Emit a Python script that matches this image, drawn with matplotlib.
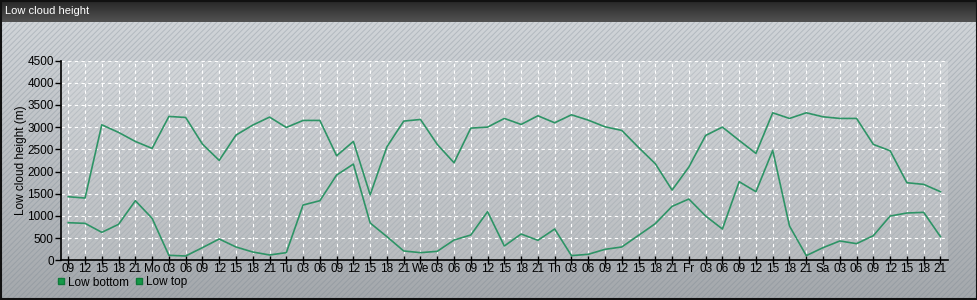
import numpy as np
import matplotlib
matplotlib.use("Agg")
import matplotlib.pyplot as plt
from matplotlib.patches import Rectangle
from matplotlib.lines import Line2D

plt.rcParams["font.family"] = ["Liberation Sans", "DejaVu Sans"]

# ---- data ----
tick_labels = (["09", "12", "15", "18", "21"] +
               ["Mo", "03", "06", "09", "12", "15", "18", "21"] +
               ["Tu", "03", "06", "09", "12", "15", "18", "21"] +
               ["We", "03", "06", "09", "12", "15", "18", "21"] +
               ["Th", "03", "06", "09", "12", "15", "18", "21"] +
               ["Fr", "03", "06", "09", "12", "15", "18", "21"] +
               ["Sa", "03", "06", "09", "12", "15", "18", "21"])

low_top = [1432, 1402, 3052, 2880, 2677, 2520, 3240, 3217, 2617, 2250,
           2820, 3045, 3225, 2992, 3150, 3150, 2355, 2677, 1475, 2557,
           3135, 3172, 2610, 2197, 2977, 3000, 3195, 3060, 3255, 3097,
           3277, 3157, 3007, 2925, 2542, 2175, 1582, 2100, 2812, 3000,
           2700, 2407, 3322, 3195, 3322, 3232, 3195, 3195, 2610, 2467,
           1747, 1710, 1545]

low_bottom = [847, 832, 630, 810, 1342, 945, 112, 97, 285, 480,
              300, 187, 120, 172, 1245, 1342, 1920, 2167, 840, 532,
              210, 172, 202, 457, 570, 1095, 322, 592, 450, 705,
              105, 135, 247, 300, 562, 825, 1215, 1380, 997, 705,
              1770, 1545, 2475, 772, 105, 285, 435, 375, 555, 997,
              1065, 1080, 532]

series_names = ["Low bottom", "Low top"]
title = "Low cloud height"
ylabel = "Low cloud height (m)"
yticks = [0, 500, 1000, 1500, 2000, 2500, 3000, 3500, 4000, 4500]

W, H = 978, 300
fig = plt.figure(figsize=(W / 100, H / 100), dpi=100)

# ---- background ----
bg = fig.add_axes([0, 0, 1, 1], zorder=-10)
bg.set_xlim(0, W)
bg.set_ylim(0, H)
bg.axis("off")
grad = np.linspace(0, 1, 256).reshape(-1, 1)
top_c = np.array([0xd0, 0xd4, 0xd8]) / 255
bot_c = np.array([0xa4, 0xa8, 0xac]) / 255
img = top_c + (bot_c - top_c) * grad[..., None] * np.ones((1, 2, 1))
bg.imshow(img, extent=(0, W, 0, H - 22), aspect="auto", origin="upper", zorder=0)
plt.rcParams["hatch.linewidth"] = 0.7
bg.add_patch(Rectangle((0, 0), W, H - 22, facecolor="none",
                       edgecolor=(0.45, 0.5, 0.55, 0.3), hatch="//////", lw=0, zorder=1))
# title bar
tgrad = np.linspace(0, 1, 64).reshape(-1, 1)
tc1 = np.array([0x26, 0x26, 0x26]) / 255
tc2 = np.array([0x52, 0x52, 0x52]) / 255
timg = tc1 + (tc2 - tc1) * tgrad[..., None] * np.ones((1, 2, 1))
bg.imshow(timg, extent=(0, W, H - 22, H), aspect="auto", origin="upper", zorder=2)
bg.text(5, H - 11.5, title, color="white", fontsize=8, va="center", ha="left",
        zorder=3)
# border
bg.add_patch(Rectangle((0.5, 1.5), W - 2, H - 2, facecolor="none",
                       edgecolor="#111111", lw=1.5, zorder=4))

# ---- main axes ----
left, right = 60.7, 948.0
bottom, topy = 300 - 260.3, 300 - 60.5
ax = fig.add_axes([left / W, bottom / H, (right - left) / W, (topy - bottom) / H])
ax.set_facecolor((1, 1, 1, 0.18))
x = np.arange(len(tick_labels))
line_color = "#2e9466"
ax.plot(x, low_top, color=line_color, lw=1.2, zorder=3)
ax.plot(x, low_bottom, color=line_color, lw=1.2, zorder=3)

ax.set_xlim(-0.45, len(tick_labels) - 1 + 0.45)
ax.set_ylim(0, 4500)
ax.set_xticks(x)
ax.set_xticklabels(tick_labels, fontsize=8.5)
ax.set_yticks(yticks)
ax.set_yticklabels([str(v) for v in yticks], fontsize=8.5)
ax.tick_params(axis="x", direction="inout", length=6, width=1, color="black", pad=-1)
ax.tick_params(axis="y", direction="out", length=4, width=1, color="black", pad=1)
ax.grid(True, color=(1, 1, 1, 0.55), linestyle=(0, (3, 3)), lw=0.8)
ax.set_axisbelow(True)
for s in ["top", "right"]:
    ax.spines[s].set_visible(False)
for s in ["left", "bottom"]:
    ax.spines[s].set_color("black")
    ax.spines[s].set_linewidth(1.2)
ax.set_ylabel(ylabel, fontsize=8.5)
ax.yaxis.set_label_coords((27.5 - left) / (right - left), 0.5)

# ---- legend ----
handles = [Line2D([], [], marker="s", linestyle="none", markersize=5,
                  markerfacecolor="#149a48", markeredgecolor="#0f7a3a")
           for _ in series_names]
fig.legend(handles, series_names, loc="upper left",
           bbox_to_anchor=(57 / W, 1 - 276.5 / H), ncol=2, frameon=False,
           fontsize=8.5, handlelength=0.6, handletextpad=0.3, columnspacing=0.6,
           borderaxespad=0, borderpad=0)

fig.savefig("out.png", dpi=100)
